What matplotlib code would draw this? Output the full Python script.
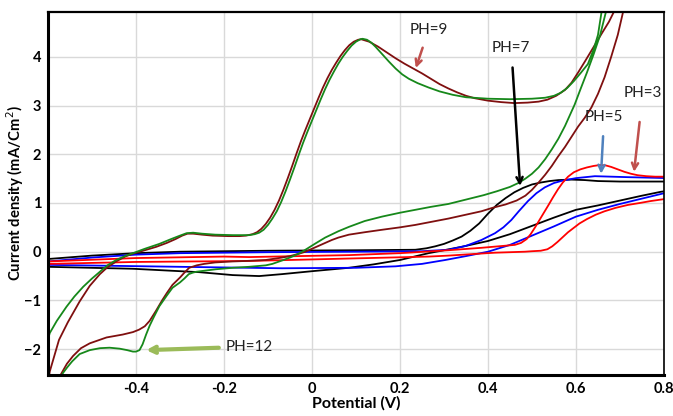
import numpy as np
import matplotlib.pyplot as plt

# potencjal (V) i gestosc pradu (mA/cm2) odczytane z wykresu
# pH 12 - zielona (najpierw galaz w gore, potem powrotna)
v_ph12 = [-0.600, -0.596, -0.580, -0.558, -0.540, -0.520, -0.500, -0.482, -0.465, -0.445, -0.425, -0.407,
          -0.380, -0.347, -0.320, -0.300, -0.285, -0.270, -0.250, -0.220, -0.180, -0.143, -0.130, -0.120,
          -0.110, -0.100, -0.090, -0.080, -0.070, -0.060, -0.050, -0.040, -0.030, -0.020, -0.010, 0.000,
          0.010, 0.020, 0.030, 0.040, 0.050, 0.060, 0.070, 0.080, 0.090, 0.100, 0.110, 0.115, 0.125,
          0.135, 0.145, 0.160, 0.175, 0.190, 0.205, 0.220, 0.240, 0.265, 0.290, 0.320, 0.350, 0.400,
          0.450, 0.500, 0.530, 0.550, 0.565, 0.580, 0.595, 0.610, 0.627, 0.640, 0.650, 0.658, 0.670,
          0.680, 0.668, 0.655, 0.640, 0.625, 0.610, 0.597, 0.585, 0.575, 0.560, 0.545, 0.530, 0.515,
          0.500, 0.485, 0.469, 0.450, 0.420, 0.390, 0.350, 0.310, 0.270, 0.235, 0.200, 0.159, 0.120,
          0.084, 0.060, 0.030, 0.008, -0.015, -0.030, -0.050, -0.068, -0.090, -0.105, -0.143, -0.180,
          -0.218, -0.245, -0.262, -0.271, -0.280, -0.290, -0.300, -0.317, -0.330, -0.347, -0.360,
          -0.369, -0.377, -0.385, -0.392, -0.400, -0.407, -0.420, -0.437, -0.460, -0.482, -0.505,
          -0.528, -0.545, -0.556, -0.566, -0.580]
i_ph12 = [-1.80, -1.67, -1.42, -1.13, -0.92, -0.72, -0.55, -0.41, -0.28, -0.17, -0.09, -0.03,
          0.06, 0.16, 0.26, 0.33, 0.38, 0.39, 0.37, 0.35, 0.34, 0.34, 0.36, 0.39,
          0.45, 0.55, 0.68, 0.83, 1.02, 1.24, 1.48, 1.73, 1.99, 2.24, 2.47, 2.69,
          2.91, 3.13, 3.34, 3.53, 3.70, 3.86, 4.00, 4.12, 4.23, 4.31, 4.36, 4.37, 4.35,
          4.29, 4.20, 4.05, 3.90, 3.76, 3.64, 3.55, 3.46, 3.37, 3.29, 3.22, 3.17, 3.14,
          3.13, 3.14, 3.16, 3.20, 3.26, 3.36, 3.50, 3.66, 3.85, 4.15, 4.45, 4.92, 5.60,
          5.60, 4.92, 4.45, 4.05, 3.68, 3.33, 3.02, 2.78, 2.58, 2.32, 2.10, 1.90, 1.73,
          1.60, 1.50, 1.41, 1.33, 1.24, 1.16, 1.07, 0.98, 0.92, 0.86, 0.80, 0.72, 0.63,
          0.51, 0.42, 0.29, 0.17, 0.04, -0.04, -0.12, -0.18, -0.25, -0.28, -0.31, -0.33,
          -0.36, -0.39, -0.41, -0.43, -0.46, -0.55, -0.63, -0.74, -0.90, -1.12, -1.35,
          -1.52, -1.70, -1.90, -2.02, -2.05, -2.05, -2.02, -1.99, -1.97, -1.98, -2.02,
          -2.10, -2.25, -2.37, -2.49, -2.75]

# pH 9 - brazowa
v_ph9 = [-0.600, -0.596, -0.585, -0.575, -0.555, -0.528, -0.505, -0.482, -0.465, -0.445, -0.425, -0.407,
         -0.380, -0.354, -0.330, -0.310, -0.295, -0.283, -0.270, -0.250, -0.226, -0.190, -0.165, -0.150,
         -0.135, -0.125, -0.115, -0.105, -0.095, -0.085, -0.075, -0.065, -0.055, -0.045, -0.035, -0.025,
         -0.015, -0.005, 0.005, 0.015, 0.025, 0.035, 0.045, 0.055, 0.065, 0.075, 0.085, 0.095, 0.105,
         0.112, 0.130, 0.150, 0.170, 0.190, 0.210, 0.230, 0.250, 0.270, 0.290, 0.310, 0.330, 0.350,
         0.370, 0.400, 0.430, 0.460, 0.490, 0.515, 0.535, 0.555, 0.575, 0.590, 0.605, 0.620, 0.640,
         0.660, 0.675, 0.686, 0.700,
         0.720, 0.707, 0.695, 0.680, 0.665, 0.650, 0.635, 0.620, 0.605, 0.590, 0.575, 0.559, 0.545,
         0.530, 0.515, 0.500, 0.485, 0.465, 0.440, 0.410, 0.385, 0.350, 0.310, 0.270, 0.235, 0.200,
         0.159, 0.120, 0.084, 0.060, 0.045, 0.020, 0.000, -0.015, -0.029, -0.050, -0.068, -0.105,
         -0.150, -0.181, -0.220, -0.245, -0.262, -0.279, -0.290, -0.300, -0.317, -0.330, -0.340,
         -0.355, -0.369, -0.380, -0.393, -0.407, -0.430, -0.467, -0.505, -0.525, -0.543, -0.557,
         -0.569, -0.585]
i_ph9 = [-2.70, -2.46, -2.12, -1.81, -1.45, -1.02, -0.70, -0.46, -0.32, -0.20, -0.10, -0.04,
         0.03, 0.10, 0.18, 0.26, 0.33, 0.37, 0.37, 0.35, 0.33, 0.32, 0.32, 0.33,
         0.36, 0.40, 0.47, 0.57, 0.70, 0.86, 1.05, 1.27, 1.51, 1.76, 2.02, 2.27,
         2.50, 2.72, 2.94, 3.16, 3.37, 3.56, 3.73, 3.88, 4.02, 4.14, 4.24, 4.31, 4.35,
         4.36, 4.31, 4.21, 4.09, 3.97, 3.86, 3.76, 3.66, 3.55, 3.44, 3.35, 3.27, 3.20,
         3.15, 3.10, 3.07, 3.05, 3.06, 3.08, 3.12, 3.20, 3.32, 3.47, 3.68, 3.90, 4.20,
         4.50, 4.72, 4.92, 5.60,
         5.60, 4.92, 4.45, 4.00, 3.58, 3.24, 2.96, 2.75, 2.57, 2.36, 2.15, 1.95, 1.76,
         1.58, 1.42, 1.27, 1.15, 1.05, 0.97, 0.90, 0.83, 0.76, 0.68, 0.61, 0.55, 0.50,
         0.45, 0.40, 0.35, 0.29, 0.24, 0.14, 0.06, 0.00, -0.04, -0.09, -0.12, -0.17,
         -0.19, -0.20, -0.22, -0.25, -0.28, -0.33, -0.43, -0.53, -0.68, -0.85, -0.99,
         -1.22, -1.42, -1.53, -1.60, -1.65, -1.70, -1.76, -1.88, -1.98, -2.14, -2.30,
         -2.49, -2.75]

# pH 7 - czarna
v_ph7 = [-0.600, -0.500, -0.400, -0.300, -0.100, 0.100, 0.235, 0.260, 0.280, 0.300, 0.320, 0.340, 0.360,
         0.380, 0.400, 0.420, 0.440, 0.460, 0.480, 0.500, 0.520, 0.540, 0.560, 0.590, 0.620, 0.650,
         0.700, 0.810,
         0.810, 0.793, 0.750, 0.700, 0.650, 0.600, 0.550, 0.500, 0.450, 0.400, 0.340, 0.265, 0.200,
         0.140, 0.084, 0.000, -0.068, -0.120, -0.180, -0.256, -0.407, -0.600]
i_ph7 = [-0.15, -0.08, -0.03, 0.00, 0.02, 0.03, 0.04, 0.07, 0.11, 0.16, 0.23, 0.31, 0.43,
         0.58, 0.78, 0.96, 1.10, 1.22, 1.31, 1.38, 1.42, 1.45, 1.47, 1.48, 1.47, 1.45,
         1.44, 1.44,
         1.25, 1.23, 1.15, 1.05, 0.95, 0.86, 0.70, 0.53, 0.36, 0.22, 0.10, -0.03, -0.17,
         -0.26, -0.33, -0.40, -0.46, -0.50, -0.48, -0.42, -0.35, -0.31]

# pH 5 - niebieska
v_ph5 = [-0.600, -0.500, -0.400, -0.300, -0.100, 0.100, 0.250, 0.310, 0.350, 0.385, 0.416, 0.435, 0.453,
         0.470, 0.491, 0.510, 0.529, 0.550, 0.570, 0.600, 0.643, 0.718, 0.810,
         0.810, 0.800, 0.750, 0.700, 0.650, 0.600, 0.550, 0.500, 0.450, 0.400, 0.350, 0.303, 0.250,
         0.190, 0.100, -0.068, -0.300, -0.600]
i_ph5 = [-0.20, -0.12, -0.06, -0.03, -0.01, 0.00, 0.01, 0.04, 0.12, 0.24, 0.38, 0.50, 0.65,
         0.83, 1.04, 1.20, 1.32, 1.41, 1.46, 1.51, 1.55, 1.53, 1.51,
         1.22, 1.20, 1.09, 0.98, 0.86, 0.72, 0.52, 0.33, 0.14, 0.00, -0.09, -0.17, -0.25,
         -0.30, -0.33, -0.34, -0.31, -0.27]

# pH 3 - czerwona
v_ph3 = [-0.600, -0.400, -0.200, -0.143, 0.084, 0.200, 0.310, 0.385, 0.461, 0.475, 0.488, 0.497, 0.507,
         0.517, 0.527, 0.537, 0.548, 0.559, 0.570, 0.582, 0.595, 0.610, 0.625, 0.640, 0.655, 0.668,
         0.680, 0.695, 0.710, 0.725, 0.740, 0.760, 0.780, 0.810,
         0.810, 0.793, 0.770, 0.745, 0.718, 0.690, 0.665, 0.645, 0.625, 0.608, 0.595, 0.582, 0.570,
         0.558, 0.546, 0.535, 0.520, 0.500, 0.484, 0.416, 0.310, 0.265, 0.084, -0.143, -0.400, -0.600]
i_ph3 = [-0.20, -0.13, -0.10, -0.11, -0.07, -0.03, 0.03, 0.08, 0.14, 0.18, 0.26, 0.36, 0.50,
         0.65, 0.80, 0.95, 1.12, 1.28, 1.42, 1.54, 1.63, 1.69, 1.73, 1.76, 1.78, 1.77,
         1.74, 1.69, 1.64, 1.60, 1.57, 1.55, 1.54, 1.54,
         1.09, 1.07, 1.04, 1.00, 0.96, 0.90, 0.83, 0.76, 0.67, 0.58, 0.49, 0.40, 0.30,
         0.20, 0.11, 0.05, 0.02, 0.01, 0.00, -0.02, -0.08, -0.10, -0.14, -0.19, -0.21, -0.25]

plt.rcParams['font.family'] = ['Lato', 'DejaVu Sans']

fig = plt.figure(figsize=(6.73, 4.16), dpi=100)
ax = fig.add_axes([0.0713, 0.0986, 0.9153, 0.8726])

lw = 1.3
ax.plot(v_ph7, i_ph7, color='black', lw=lw)
ax.plot(v_ph5, i_ph5, color='#0000ff', lw=lw)
ax.plot(v_ph3, i_ph3, color='#ff0000', lw=lw)
ax.plot(v_ph9, i_ph9, color='#7f0f0f', lw=lw)
ax.plot(v_ph12, i_ph12, color='#16881a', lw=lw)

ax.set_xlim(-0.6, 0.8)
ax.set_ylim(-2.53, 4.92)
ax.set_xticks([-0.4, -0.2, 0, 0.2, 0.4, 0.6, 0.8])
ax.set_xticklabels(['-0.4', '-0.2', '0', '0.2', '0.4', '0.6', '0.8'])
ax.set_yticks([-2, -1, 0, 1, 2, 3, 4])
ax.grid(True, color='#d9d9d9', lw=1)
ax.set_axisbelow(True)
ax.tick_params(length=0, labelsize=10.5, pad=5)
for lab in ax.get_xticklabels() + ax.get_yticklabels():
    lab.set_fontweight('bold')
for s in ax.spines.values():
    s.set_color('black')
ax.spines['left'].set_linewidth(2.2)
ax.spines['bottom'].set_linewidth(2.2)
ax.spines['top'].set_linewidth(1.6)
ax.spines['right'].set_linewidth(1.2)

ax.set_xlabel('Potential (V)', fontweight='bold', fontsize=11.5, labelpad=0)
ax.set_ylabel('Current density (mA/Cm$^2$)', fontweight='bold', fontsize=10.7)
ax.yaxis.set_label_coords(-0.035, 0.5)

# opisy ze strzalkami
ax.annotate('PH=9', xy=(0.236, 3.77), xytext=(0.265, 4.55), ha='center', va='center', fontsize=11,
            color='#222222', arrowprops=dict(arrowstyle='->', color='#c0504d', lw=1.8, shrinkA=6, shrinkB=0))
ax.annotate('PH=7', xy=(0.473, 1.35), xytext=(0.453, 4.18), ha='center', va='center', fontsize=11,
            color='#222222', arrowprops=dict(arrowstyle='->', color='black', lw=1.8, shrinkA=7, shrinkB=0))
ax.annotate('PH=5', xy=(0.657, 1.60), xytext=(0.664, 2.77), ha='center', va='center', fontsize=11,
            color='#222222', arrowprops=dict(arrowstyle='->', color='#4f81bd', lw=1.8, shrinkA=7, shrinkB=0))
ax.annotate('PH=3', xy=(0.732, 1.64), xytext=(0.752, 3.26), ha='center', va='center', fontsize=11,
            color='#222222', arrowprops=dict(arrowstyle='->', color='#c0504d', lw=1.8, shrinkA=14, shrinkB=0))
ax.annotate('PH=12', xy=(-0.377, -2.02), xytext=(-0.196, -1.95), ha='left', va='center', fontsize=11,
            color='#222222', arrowprops=dict(arrowstyle='->', color='#9bbb59', lw=3, shrinkA=3, shrinkB=0))

fig.savefig('out.png', dpi=100)
